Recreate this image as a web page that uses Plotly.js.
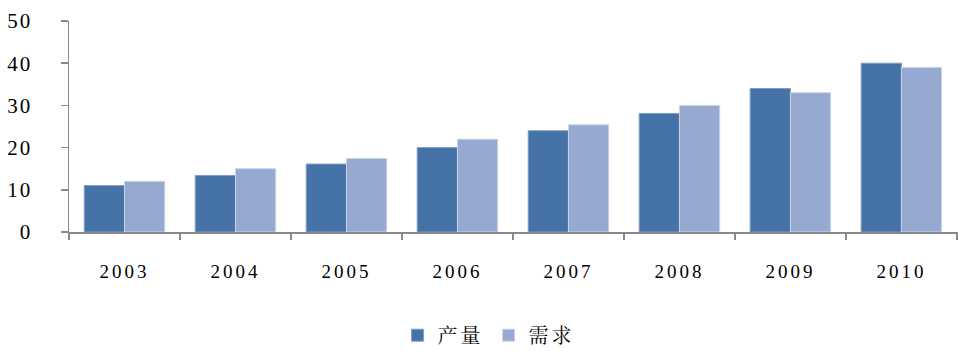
<!DOCTYPE html>
<html>
<head>
<meta charset="utf-8">
<script src="https://cdn.plot.ly/plotly-3.0.1.min.js"></script>
<style>
html,body{margin:0;padding:0;background:#fff;}
#chart{width:958px;height:351px;}
.xtick text{letter-spacing:3px;}
.ytick text{letter-spacing:2px;}
.legendtext{letter-spacing:3px;}
</style>
</head>
<body>
<div id="chart"></div>
<script>
const years = ['2003','2004','2005','2006','2007','2008','2009','2010'];
const production = [11, 13.4, 16.1, 20, 24, 28.1, 34, 40];
const demand = [12, 15, 17.4, 22, 25.4, 30, 33, 39];
const seriesNames = ['产量', '需求'];

const traces = [
  {type:'bar', x: years, y: production, name: seriesNames[0],
   marker:{color:'#4572A7', line:{color:'#7f9cc4', width:1}}},
  {type:'bar', x: years, y: demand, name: seriesNames[1],
   marker:{color:'#95A9D1', line:{color:'#c9d4ea', width:1}}}
];

const layout = {
  width:958, height:351,
  margin:{l:69, r:0, t:21, b:119, autoexpand:false},
  paper_bgcolor:'#fff', plot_bgcolor:'#fff',
  barmode:'group', bargap:0.275, bargroupgap:0,
  font:{family:'"Liberation Serif", "Times New Roman", serif', color:'#000', size:19},
  showlegend:true,
  legend:{orientation:'h', x:0.51, xanchor:'center', xref:'container', y:0.045, yanchor:'middle', yref:'container',
          font:{family:'"Noto Serif CJK SC","Noto Sans CJK SC", serif', size:20, color:'#000'},
          itemwidth:20, tracegroupgap:0},
  xaxis:{type:'category', range:[-0.5, 7.51], showline:true, linecolor:'#898989', linewidth:1.5,
         ticks:'outside', tickson:'boundaries', ticklen:6, tickcolor:'#898989', tickwidth:1.5,
         showgrid:false, zeroline:false, ticklabelstandoff:22,
         tickfont:{size:19}},
  yaxis:{range:[0,50], dtick:10, showline:true, linecolor:'#898989', linewidth:1.5,
         ticks:'outside', ticklen:7, tickcolor:'#898989', tickwidth:1.5,
         showgrid:false, zeroline:false, ticklabelstandoff:24,
         tickfont:{size:21}}
};

Plotly.newPlot('chart', traces, layout, {displayModeBar:false, staticPlot:true});
</script>
</body>
</html>
